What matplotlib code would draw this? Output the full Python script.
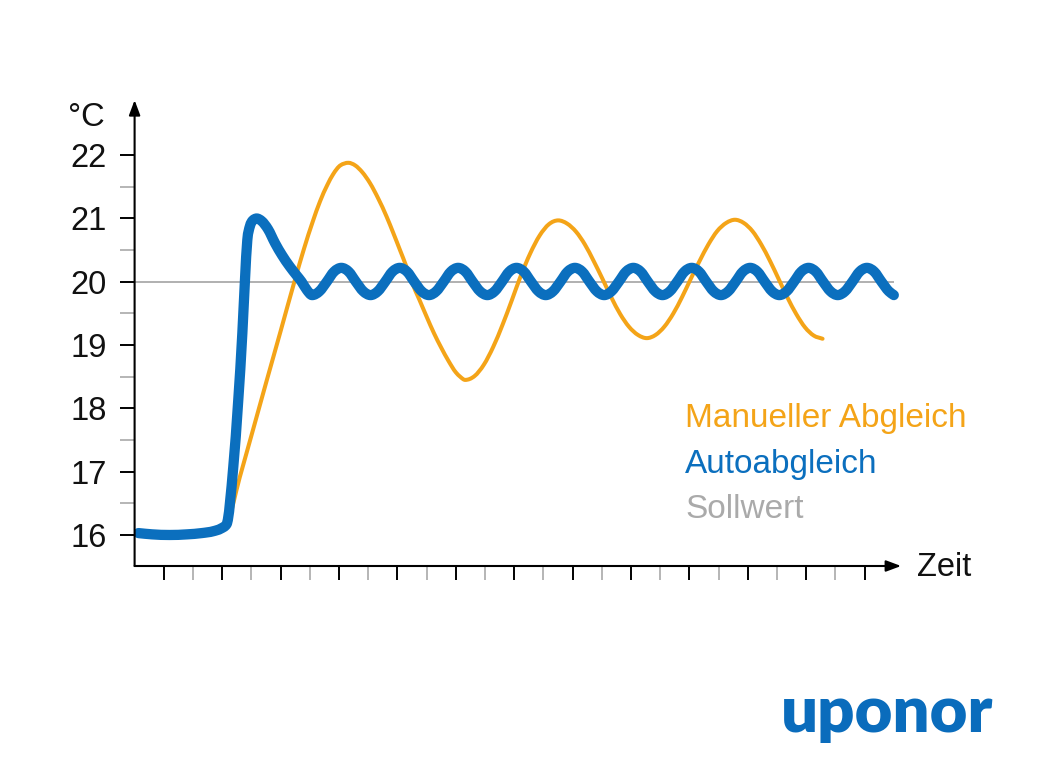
import matplotlib
matplotlib.use("Agg")
import matplotlib.pyplot as plt
from matplotlib.path import Path
from matplotlib.patches import PathPatch

plt.rcParams['font.family'] = ['Liberation Sans', 'DejaVu Sans']

# ---------------- data ----------------
setpoint = 20.0

blue_x = [
    0.13, 0.6, 1.2, 1.8, 2.3, 2.7, 2.95, 3.15, 3.38, 3.55, 3.69, 3.78, 3.86, 3.95,
    4.05, 4.18, 4.35, 4.57, 4.81, 5.05, 5.30, 5.55, 5.72, 5.90,
    6.08, 6.33, 6.58, 6.83, 7.08, 7.33, 7.58, 7.83,
    8.08, 8.33, 8.58, 8.83, 9.08, 9.33, 9.58, 9.83,
    10.08, 10.33, 10.58, 10.83, 11.08, 11.33, 11.58, 11.83,
    12.08, 12.33, 12.58, 12.83, 13.08, 13.33, 13.58, 13.83,
    14.08, 14.33, 14.58, 14.83, 15.08, 15.33, 15.58, 15.83,
    16.08, 16.33, 16.58, 16.83, 17.08, 17.33, 17.58, 17.83,
    18.08, 18.33, 18.58, 18.83, 19.08, 19.33, 19.58, 19.83,
    20.08, 20.33, 20.58, 20.83, 21.08, 21.33, 21.58, 21.83,
    22.08, 22.33, 22.58, 22.83, 23.08, 23.33, 23.58, 23.83,
    24.08, 24.33, 24.58, 24.83, 25.08, 25.33, 25.58, 25.83,
    26.0,
]
blue_y = [
    16.03, 16.01, 16.0, 16.01, 16.03, 16.06, 16.1, 16.17, 17.08, 18.13, 19.19, 20.03, 20.66, 20.88,
    20.97, 21.0, 20.96, 20.83, 20.61, 20.42, 20.25, 20.1, 20.0, 19.87,
    19.79, 19.85, 20.0, 20.16, 20.22, 20.16, 20.0, 19.85,
    19.79, 19.85, 20.0, 20.16, 20.22, 20.16, 20.0, 19.85,
    19.79, 19.85, 20.0, 20.16, 20.22, 20.16, 20.0, 19.85,
    19.79, 19.85, 20.0, 20.16, 20.22, 20.16, 20.0, 19.85,
    19.79, 19.85, 20.0, 20.16, 20.22, 20.16, 20.0, 19.85,
    19.79, 19.85, 20.0, 20.16, 20.22, 20.16, 20.0, 19.85,
    19.79, 19.85, 20.0, 20.16, 20.22, 20.16, 20.0, 19.85,
    19.79, 19.85, 20.0, 20.16, 20.22, 20.16, 20.0, 19.85,
    19.79, 19.85, 20.0, 20.16, 20.22, 20.16, 20.0, 19.85,
    19.79, 19.85, 20.0, 20.16, 20.22, 20.16, 20.0, 19.85,
    19.79,
]

orange_x = [
    0.13, 0.6, 1.2, 1.8, 2.3, 2.7, 2.95, 3.15, 3.6, 4.0, 4.5, 5.0, 5.49, 5.8,
    6.1, 6.35, 6.6, 6.8, 7.05, 7.32, 7.55, 7.8, 8.06, 8.35, 8.63, 8.86, 9.09,
    9.3, 9.49, 9.75, 10.0, 10.25, 10.5, 10.75, 11.0, 11.15, 11.32,
    11.64, 11.96, 12.28, 12.60, 12.92, 13.23, 13.55, 13.87, 14.19, 14.51,
    14.81, 15.12, 15.42, 15.72, 16.03, 16.33, 16.63, 16.93, 17.24, 17.54,
    17.84, 18.14, 18.45, 18.75, 19.05, 19.35, 19.65, 19.95, 20.26, 20.56,
    20.86, 21.16, 21.46, 21.76, 22.06, 22.36, 22.66, 22.96, 23.26, 23.56,
]
orange_y = [
    16.03, 16.01, 16.0, 16.01, 16.03, 16.06, 16.1, 16.17, 16.91, 17.57, 18.4, 19.22, 20.03, 20.52,
    20.95, 21.27, 21.53, 21.7, 21.84, 21.88, 21.84, 21.73, 21.56, 21.31, 21.03, 20.77, 20.5,
    20.25, 20.0, 19.72, 19.45, 19.19, 18.96, 18.75, 18.57, 18.5, 18.45,
    18.51, 18.69, 18.97, 19.32, 19.71, 20.10, 20.45, 20.73, 20.91, 20.97,
    20.92, 20.79, 20.59, 20.33, 20.04, 19.75, 19.49, 19.29, 19.16, 19.11,
    19.16, 19.29, 19.50, 19.76, 20.05, 20.33, 20.59, 20.80, 20.93, 20.98,
    20.93, 20.80, 20.59, 20.33, 20.04, 19.75, 19.49, 19.28, 19.15, 19.10,
]

y_major = [16, 17, 18, 19, 20, 21, 22]
y_minor = [16.5, 17.5, 18.5, 19.5, 20.5, 21.5]
x_major = [1, 3, 5, 7, 9, 11, 13, 15, 17, 19, 21, 23, 25]
x_minor = [2, 4, 6, 8, 10, 12, 14, 16, 18, 20, 22, 24]

legend_labels = ["Manueller Abgleich", "Autoabgleich", "Sollwert"]
x_label = "Zeit"
y_label = "°C"
brand = "uponor"


# ---------------- helpers ----------------
def _sign(v):
    return (v > 0) - (v < 0)


def monotone_path(xs, ys):
    """Smooth monotone-x cubic path through the given points (like d3.curveMonotoneX)."""
    n = len(xs)
    h = [xs[i + 1] - xs[i] for i in range(n - 1)]
    s = [(ys[i + 1] - ys[i]) / h[i] for i in range(n - 1)]
    m = [0.0] * n
    for i in range(1, n - 1):
        s0, s1, h0, h1 = s[i - 1], s[i], h[i - 1], h[i]
        p = (s0 * h1 + s1 * h0) / (h0 + h1)
        m[i] = (_sign(s0) + _sign(s1)) * min(abs(s0), abs(s1), 0.5 * abs(p))
    m[0] = s[0]
    m[-1] = s[-1]
    verts = [(xs[0], ys[0])]
    codes = [Path.MOVETO]
    for i in range(n - 1):
        d = h[i] / 3.0
        verts += [(xs[i] + d, ys[i] + m[i] * d),
                  (xs[i + 1] - d, ys[i + 1] - m[i + 1] * d),
                  (xs[i + 1], ys[i + 1])]
        codes += [Path.CURVE4, Path.CURVE4, Path.CURVE4]
    return Path(verts, codes)


# ---------------- style ----------------
ORANGE = "#F4A418"
BLUE = "#0B6FBE"
GRAY = "#AAAAAA"
FS = 23.5

W, H = 1045, 783
fig = plt.figure(figsize=(W / 100, H / 100), dpi=100)
fig.patch.set_facecolor("white")

left_px, right_px, bottom_px, top_px = 134.6, 908.4, 566.0, 91.9
ax = fig.add_axes([left_px / W, 1 - bottom_px / H, (right_px - left_px) / W, (bottom_px - top_px) / H])
ax.set_xlim(0, 26.5)
ax.set_ylim(15.51, 23.0)
for sp in ax.spines.values():
    sp.set_visible(False)
ax.set_facecolor("none")

# setpoint line
ax.hlines(setpoint, 0, blue_x[-1], color=GRAY, lw=1.3, zorder=1)

# curves
ax.add_patch(PathPatch(monotone_path(orange_x, orange_y), fill=False, edgecolor=ORANGE,
                       lw=2.9, capstyle="round", joinstyle="round", zorder=2))
ax.add_patch(PathPatch(monotone_path(blue_x, blue_y), fill=False, edgecolor=BLUE,
                       lw=7.4, capstyle="round", joinstyle="round", zorder=3))

# axis arrows
arrow_kw = dict(arrowstyle="-|>,head_length=0.75,head_width=0.28", color="black",
                lw=1.5, mutation_scale=12, shrinkA=0, shrinkB=0)
ax.annotate("", xy=(26.25, 15.51), xytext=(0, 15.51), xycoords="data",
            arrowprops=arrow_kw, annotation_clip=False, zorder=5)
ax.annotate("", xy=(0, 22.87), xytext=(0, 15.51), xycoords="data",
            arrowprops=arrow_kw, annotation_clip=False, zorder=5)

# ticks
ax.set_xticks(x_major)
ax.set_xticks(x_minor, minor=True)
ax.set_yticks(y_major)
ax.set_yticks(y_minor, minor=True)
ax.set_yticklabels([str(v) for v in y_major])
ax.tick_params(axis="x", which="major", direction="out", length=10, width=1.4,
               color="black", labelbottom=False)
ax.tick_params(axis="x", which="minor", direction="out", length=10, width=1.4,
               color="#B5B5B5")
ax.tick_params(axis="y", which="major", direction="out", length=11, width=1.4,
               color="black", labelsize=FS, pad=9, labelcolor="#111111")
ax.tick_params(axis="y", which="minor", direction="out", length=11, width=1.4,
               color="#B5B5B5")

# axis labels
fig.text(68 / W, 1 - 126 / H, y_label, ha="left", va="baseline", fontsize=FS, color="#111111")
fig.text(917 / W, 1 - 576 / H, x_label, ha="left", va="baseline", fontsize=FS, color="#111111")

# legend texts
LFS = 24
fig.text(685 / W, 1 - 426.5 / H, legend_labels[0], ha="left", va="baseline", fontsize=LFS, color=ORANGE)
fig.text(685 / W, 1 - 473.3 / H, legend_labels[1], ha="left", va="baseline", fontsize=LFS, color=BLUE)
fig.text(685 / W, 1 - 518.3 / H, legend_labels[2], ha="left", va="baseline", fontsize=LFS, color=GRAY)

# brand
fig.text(993 / W, 1 - 732 / H, brand, ha="right", va="baseline", fontsize=47,
         family=["Lato", "DejaVu Sans"], weight="heavy", color="#0A6CBC")

fig.savefig("out.png", dpi=100, facecolor="white")
